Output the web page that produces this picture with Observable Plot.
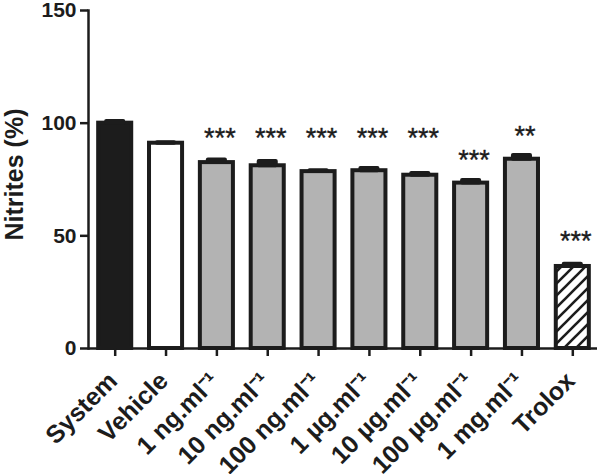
<!DOCTYPE html>
<html>
<head>
<meta charset="utf-8">
<script src="https://cdn.jsdelivr.net/npm/d3@7"></script>
<script src="https://cdn.jsdelivr.net/npm/@observablehq/plot@0.6"></script>
<style>
  body { margin: 0; background: #ffffff; }
</style>
</head>
<body>
<div id="chart"></div>
<script>
// ---- data ----
const categories = ["System", "Vehicle", "1 ng.ml⁻¹", "10 ng.ml⁻¹", "100 ng.ml⁻¹", "1 µg.ml⁻¹", "10 µg.ml⁻¹", "100 µg.ml⁻¹", "1 mg.ml⁻¹", "Trolox"];
const groups = ["system", "vehicle", "extract", "extract", "extract", "extract", "extract", "extract", "extract", "trolox"];
const nitrites = [100, 91.1, 82.5, 81.1, 78.5, 78.9, 76.9, 73.4, 84.0, 36.4];
const sem = [0.7, 0.2, 1.2, 1.9, 0.4, 1.0, 0.8, 1.2, 1.7, 1.0];
const stars = ["", "", "***", "***", "***", "***", "***", "***", "**", "***"];
const starLevel = [null, null, 95.6, 95.6, 95.6, 95.6, 95.6, 85.8, 96.4, 49.8];
const yTicks = [0, 50, 100, 150];
const yLabel = "Nitrites (%)";

const ink = "#1c1c1c";
const fillOf = {system: "#1c1c1c", vehicle: "#ffffff", extract: "#b3b3b3", trolox: "url(#hatch)"};

const data = categories.map((c, i) => ({
  category: c, group: groups[i], value: nitrites[i], sem: sem[i], star: stars[i], starY: starLevel[i]
}));

const font = "'Liberation Sans', Arial, Helvetica, sans-serif";

const plot = Plot.plot({
  width: 600,
  height: 474,
  marginLeft: 88,
  marginRight: 1,
  marginTop: 10,
  marginBottom: 126,
  x: {domain: categories, paddingInner: 0.35, paddingOuter: 0.2, round: false, axis: null},
  y: {domain: [0, 150], axis: null},
  color: {type: "identity"},
  style: {fontFamily: font, color: ink, background: "#ffffff", overflow: "visible"},
  marks: [
    Plot.barY(data, {x: "category", y: "value", fill: d => fillOf[d.group], stroke: ink, strokeWidth: 4}),
    Plot.barY(data, {x: "category", y1: "value", y2: d => d.value + d.sem, fill: ink, stroke: ink, strokeWidth: 4, strokeLinejoin: "round", insetLeft: 8, insetRight: 8}),
    Plot.ruleY([0], {stroke: ink, strokeWidth: 2.5, insetRight: 2}),
    Plot.frame({anchor: "left", stroke: ink, strokeWidth: 2.5}),
    Plot.axisY({ticks: yTicks, tickSize: 8, tickPadding: 4, fontSize: 21, fontWeight: "bold", stroke: ink, fill: ink, strokeWidth: 2.5, label: null}),
    Plot.axisX({tickSize: 8, tickFormat: () => "", stroke: ink, strokeWidth: 2.5, label: null}),
    Plot.text(data, {x: "category", frameAnchor: "bottom", text: "category", rotate: -45, textAnchor: "end", lineAnchor: "bottom", dx: 3.5, dy: 34, fontSize: 25, fontWeight: "bold", fill: ink, ariaLabel: "x-labels"}),
    Plot.text(data.filter(d => d.star), {x: "category", y: "starY", text: "star", fontSize: 27, dy: 5, dx: 3, fill: ink, stroke: ink, strokeWidth: 0.4, ariaLabel: "stars"}),
    Plot.text([yLabel], {frameAnchor: "left", rotate: -90, textAnchor: "middle", lineAnchor: "middle", dx: -73.5, dy: -5, fontSize: 25, fontWeight: "bold", fill: ink, ariaLabel: "y-label"})
  ]
});

// hatch pattern for Trolox
const svg = d3.select(plot);
const defs = svg.insert("defs", ":first-child");
const pat = defs.append("pattern")
  .attr("id", "hatch")
  .attr("patternUnits", "userSpaceOnUse")
  .attr("width", 12).attr("height", 12);
pat.append("rect").attr("width", 12).attr("height", 12).attr("fill", "#ffffff");
pat.append("path")
  .attr("d", "M0,12 L12,0 M-3,3 L3,-3 M9,15 L15,9")
  .attr("stroke", ink).attr("stroke-width", 2.6);

// superscript exponents in the x labels
svg.selectAll('g[aria-label="x-labels"] text').each(function() {
  const t = this.textContent;
  this.setAttribute("font-size", 25);
  if (t.includes("⁻¹")) {
    const base = t.replace("⁻¹", "");
    const sel = d3.select(this);
    sel.text(base);
    sel.append("tspan").attr("dx", 1.5).attr("dy", "-0.65em").attr("font-size", 16).attr("letter-spacing", 3).text("-1");
  }
});

// y label: "Nitrites" + spread "(%)", lengths fitted to the reference
svg.selectAll('g[aria-label="y-label"] text').each(function() {
  const sel = d3.select(this);
  sel.attr("font-size", 25).attr("text-anchor", "middle");
  sel.text("");
  sel.append("tspan").attr("textLength", 80).attr("lengthAdjust", "spacing").text("Nitrites");
  sel.append("tspan").attr("textLength", 78).attr("lengthAdjust", "spacing").text(" (%)");
});

document.getElementById("chart").appendChild(plot);
</script>
</body>
</html>
